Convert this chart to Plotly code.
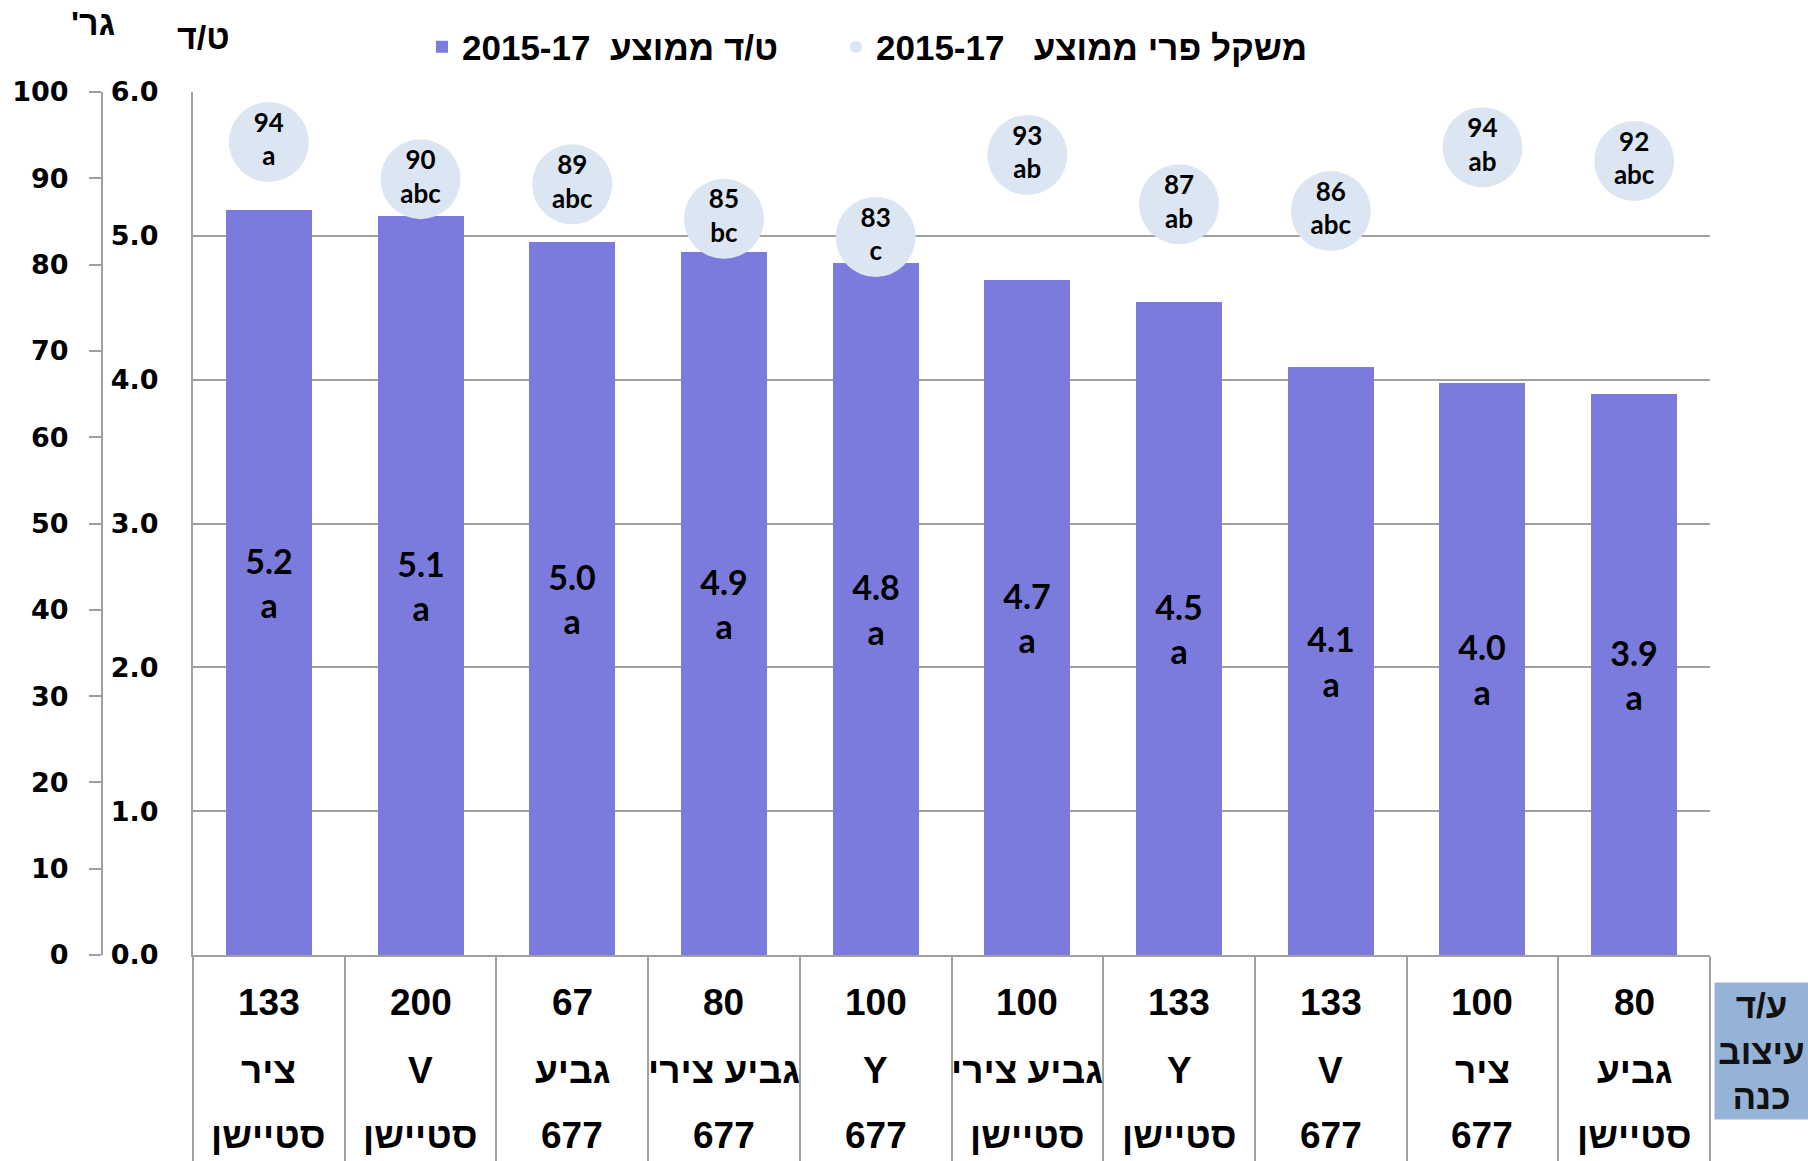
import plotly.graph_objects as go

# ---- data ----
density = ["133", "200", "67", "80", "100", "100", "133", "133", "100", "80"]
shape = ["ציר", "V", "גביע", "גביע צירי", "Y", "גביע צירי", "Y", "V", "ציר", "גביע"]
cultivar = ["סטיישן", "סטיישן", "677", "677", "677", "סטיישן", "סטיישן", "677", "677", "סטיישן"]
yield_td = [5.18, 5.14, 4.96, 4.89, 4.81, 4.69, 4.54, 4.09, 3.98, 3.90]
yield_letters = ["a", "a", "a", "a", "a", "a", "a", "a", "a", "a"]
fruit_g = [94.2, 89.9, 89.3, 85.3, 83.2, 92.7, 87.0, 86.2, 93.6, 92.0]
fruit_letters = ["a", "abc", "abc", "bc", "c", "ab", "ab", "abc", "ab", "abc"]
td_ticks = [0, 1, 2, 3, 4, 5, 6]
g_ticks = [0, 10, 20, 30, 40, 50, 60, 70, 80, 90, 100]

legend_bar = "2015-17  ט/ד ממוצע"
legend_dot = "2015-17   משקל פרי ממוצע"
title_td = "ט/ד"
title_g = "גר'\u200F"   # RLM keeps the geresh on the reading-order end (visual left)
box_text = "ע/ד<br>עיצוב<br>כנה"

W, H = 1808, 1161
cats = [f"{a}|{b}|{c}" for a, b, c in zip(density, shape, cultivar)]

BAR = "#7B7BDD"
BUB = "#DCE6F2"
GRID = "#A0A0A0"
SANS = "Liberation Sans, Arial, sans-serif"
CAL = "Lato, Open Sans, sans-serif"
AX = "DejaVu Sans, sans-serif"

fig = go.Figure()
fig.add_trace(go.Bar(
    x=cats, y=yield_td, yaxis="y", name=legend_bar, legend="legend",
    marker=dict(color=BAR, line=dict(width=0)), width=0.567,
    text=[f"{v:.1f}<br>{l}" for v, l in zip(yield_td, yield_letters)],
    textposition="inside", insidetextanchor="middle", textangle=0,
    textfont=dict(family=CAL, size=34, color="black", weight="bold"),
    constraintext="none", hoverinfo="skip",
))
fig.add_trace(go.Scatter(
    x=cats, y=fruit_g, yaxis="y2", name=legend_dot, legend="legend2",
    mode="markers+text",
    marker=dict(size=80, color=BUB, line=dict(width=0)),
    text=[f"{round(v)}<br>{l}" for v, l in zip(fruit_g, fruit_letters)],
    textposition="middle center",
    textfont=dict(family=CAL, size=26, color="black", weight="bold"),
    hoverinfo="skip",
))

x0, x1 = 193 / W, 1710 / W
ybot, ytop = 1 - 955 / H, 1 - 92 / H
legfont = dict(family=SANS, size=35, color="black", weight="bold")

fig.update_layout(
    width=W, height=H, margin=dict(l=0, r=0, t=0, b=0, autoexpand=False),
    paper_bgcolor="white", plot_bgcolor="white",
    bargap=0,
    xaxis=dict(domain=[x0, x1], type="category", range=[-0.5, 9.5], automargin=False,
               showline=True, linecolor=GRID, linewidth=2,
               ticks="outside", tickson="boundaries", ticklen=210,
               tickcolor=GRID, tickwidth=2, showticklabels=False,
               showgrid=False, zeroline=False, fixedrange=True),
    yaxis=dict(domain=[ybot, ytop], range=[0, 6], tickvals=td_ticks, automargin=False,
               tickformat=".1f", showgrid=True, gridcolor=GRID, gridwidth=2,
               showline=True, linecolor=GRID, linewidth=2, ticks="",
               ticklabelstandoff=27, zeroline=False,
               tickfont=dict(family=AX, size=27, color="black", weight="bold")),
    yaxis2=dict(overlaying="y", anchor="free", position=102 / W, side="left",
                range=[0, 100], tickvals=g_ticks, showgrid=False, automargin=False,
                showline=True, linecolor=GRID, linewidth=2,
                ticks="outside", ticklen=12, tickcolor=GRID, tickwidth=2,
                ticklabelstandoff=15, zeroline=False,
                tickfont=dict(family=AX, size=27, color="black", weight="bold")),
    legend=dict(orientation="h", x=422 / W, xanchor="left", y=1 - 47 / H,
                yanchor="middle", itemsizing="constant", font=legfont,
                bgcolor="rgba(0,0,0,0)"),
    legend2=dict(orientation="h", x=836 / W, xanchor="left", y=1 - 47 / H,
                 yanchor="middle", itemsizing="constant", font=legfont,
                 bgcolor="rgba(0,0,0,0)"),
    showlegend=True,
)

ann = []
rows = [(density, 1002), (shape, 1070), (cultivar, 1135)]
for vals, ypx in rows:
    for c, v in zip(cats, vals):
        ann.append(dict(x=c, xref="x", y=1 - ypx / H, yref="paper", borderpad=0,
                        text=v, showarrow=False, xanchor="center", yanchor="middle",
                        font=dict(family=SANS, size=37, color="black", weight="bold")))
ann.append(dict(x=203 / W, y=1 - 37 / H, xref="paper", yref="paper", text=title_td,
                showarrow=False, xanchor="center", yanchor="middle",
                font=dict(family=SANS, size=34, color="black", weight="bold")))
ann.append(dict(x=93 / W, y=1 - 23 / H, xref="paper", yref="paper", text=title_g,
                showarrow=False, xanchor="center", yanchor="middle",
                font=dict(family=SANS, size=34, color="black", weight="bold")))
ann.append(dict(x=1761 / W, y=1 - 1051 / H, xref="paper", yref="paper", text=box_text,
                showarrow=False, xanchor="center", yanchor="middle",
                width=93, height=136, bgcolor="#95B3D7", borderpad=0, align="center",
                valign="middle",
                font=dict(family=SANS, size=35, color="#111111", weight="bold")))
fig.update_layout(annotations=ann)

fig.write_html("out.html", config={"displayModeBar": False})
with open("out.html", encoding="utf-8") as f:
    html = f.read()
html = html.replace("<head>", "<head><style>html,body{margin:0;padding:0;overflow:hidden}</style>", 1)
with open("out.html", "w", encoding="utf-8") as f:
    f.write(html)
